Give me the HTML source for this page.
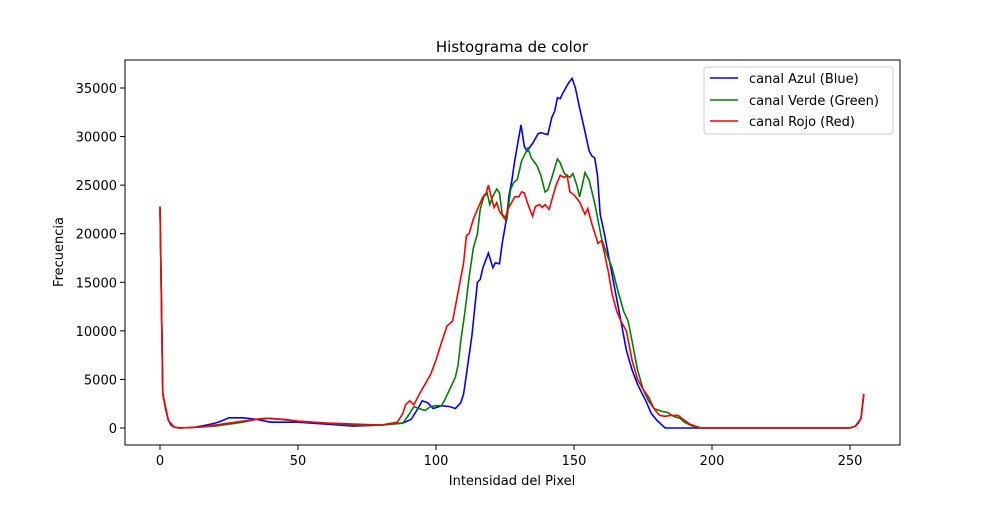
<!DOCTYPE html>
<html><head><meta charset="utf-8"><style>
body{margin:0;background:#fff}
text{font-family:"DejaVu Sans","Liberation Sans",sans-serif;font-size:13px;fill:#000}
</style></head><body>
<svg id="s" width="1000" height="500" xmlns="http://www.w3.org/2000/svg">
<rect width="1000" height="500" fill="#fff"/>
<text x="512" y="52" text-anchor="middle" font-size="15" style="font-size:15px">Histograma de color</text>
<g id="ticks"></g>
<polyline id="b" fill="none" stroke="#0000ff" stroke-width="1.6"/>
<polyline id="g" fill="none" stroke="#008000" stroke-width="1.6"/>
<polyline id="r" fill="none" stroke="#ff0000" stroke-width="1.6"/>
<rect x="125" y="60" width="775" height="385" fill="none" stroke="#000" stroke-width="1"/>
<text x="512" y="485" text-anchor="middle">Intensidad del Pixel</text>
<text transform="translate(63,252) rotate(-90)" text-anchor="middle">Frecuencia</text>
<rect x="704" y="67" width="189" height="67" rx="3" fill="#fff" stroke="#ccc"/>
<line x1="710" y1="78" x2="738" y2="78" stroke="#0000ff" stroke-width="1.6"/>
<text x="749" y="83">canal Azul (Blue)</text>
<line x1="710" y1="100" x2="738" y2="100" stroke="#008000" stroke-width="1.6"/>
<text x="749" y="105">canal Verde (Green)</text>
<line x1="710" y1="121" x2="738" y2="121" stroke="#ff0000" stroke-width="1.6"/>
<text x="749" y="126">canal Rojo (Red)</text>
</svg>
<script>
const X=v=>160+2.76*v, Y=v=>428-v*340/35000;
let t='';
[0,50,100,150,200,250].forEach(v=>{t+=`<line x1="${X(v)}" y1="445" x2="${X(v)}" y2="450" stroke="#000"/><text x="${X(v)}" y="465" text-anchor="middle">${v}</text>`});
for(let v=0;v<=35000;v+=5000){t+=`<line x1="120" y1="${Y(v)}" x2="125" y2="${Y(v)}" stroke="#000"/><text x="117" y="${Y(v)+5}" text-anchor="end">${v}</text>`}
document.getElementById('ticks').innerHTML=t;
const B=[[0,22800],[1,3500],[2,2000],[3,800],[4,300],[5,100],[7,0],[12,50],[15,200],[20,500],[22,700],[25,1050],[30,1050],[35,900],[40,600],[50,600],[60,400],[70,200],[80,300],[88,500],[91,900],[93,1800],[95,2800],[97,2600],[99,2000],[102,2300],[105,2200],[107,2000],[109,2600],[110,3500],[111,5500],[113,9500],[115,15000],[116,15300],[117,16500],[119,18000],[120.6,16500],[121.5,17000],[123,16900],[124,19000],[125.5,21500],[126.5,24000],[127.5,25500],[128.5,27500],[130.8,31200],[132,29000],[133,28500],[135,29300],[137,30300],[138,30400],[140.5,30200],[142,32000],[143,32600],[144,34000],[145,33900],[146,34500],[148,35500],[149.3,36000],[150.5,35000],[152,33000],[154,30500],[155.5,28500],[156.5,28000],[157.5,27800],[158.5,26000],[159.5,22000],[161,20000],[163,17000],[165,14000],[167,11000],[169,8000],[171,6000],[173,4500],[176,2800],[178,1500],[180,800],[183,0],[250,0],[252,200],[253,500],[254,1000],[255,3500]];
const G=[[0,22800],[1,3500],[3,800],[5,100],[7,0],[15,100],[20,200],[30,600],[35,900],[40,1000],[50,700],[60,500],[70,300],[80,300],[88,500],[90,1300],[92,2200],[94,2000],[96,1800],[98,2200],[100,2300],[102,2300],[103,2800],[105,4000],[107,5200],[108,6500],[109,9000],[110.5,12000],[112,15500],[113.5,18500],[115,20000],[116,22500],[117.5,24000],[118.5,24200],[119.5,23000],[120.5,23800],[122,24600],[123,24200],[124,22000],[125.7,21500],[127,24500],[128,25200],[129.5,25600],[131,27500],[133.3,28800],[134.5,27800],[136.6,27000],[138,26000],[139.5,24300],[140.5,24500],[142,25800],[144,27700],[145,27300],[146.5,26200],[148.5,25800],[149.6,26200],[151,25000],[152,23800],[153,25000],[154,26300],[155.5,25500],[157.6,23000],[160,19500],[162,17800],[163.8,16500],[166,14000],[168,12000],[169.6,11000],[171,9000],[173,6000],[175,4000],[177,2800],[179,2000],[182,1700],[184,1600],[186,1200],[188.4,1000],[190,600],[193,200],[196,0],[250,0],[252,200],[254,1000],[255,3500]];
const R=[[0,22800],[1,3500],[3,800],[5,100],[7,0],[15,100],[20,300],[30,700],[35,900],[38,1000],[45,900],[50,700],[60,500],[70,400],[80,300],[86,600],[88,1500],[89,2400],[90.5,2800],[92,2400],[94,3500],[96,4500],[98,5500],[100,7000],[102,8800],[104,10500],[106,11000],[108,14000],[110,17000],[111,19800],[112,20000],[113.5,21500],[115,22500],[117,23800],[118,24000],[119,25000],[120,23800],[121,22700],[122,23200],[123,22300],[125,21500],[126,22500],[127,23000],[128.5,23800],[130,23800],[131,24300],[132,24200],[133,23300],[134,22500],[135,21800],[136,22800],[137.5,23000],[138.5,22700],[139.5,23000],[141,22500],[142,23500],[143.5,25000],[145,26000],[146.5,25800],[147.5,26000],[148.5,24300],[150,24000],[152,23300],[154,22000],[155,22600],[156.5,21000],[158.7,19000],[160,19300],[161,18000],[162.5,16000],[163.8,13800],[165.5,12000],[167,11000],[169,10000],[171,7000],[173,5000],[175,4000],[177,3200],[179,2000],[181,1300],[183,1200],[185,1300],[187.7,1300],[190,800],[192,400],[194,200],[196,0],[250,0],[252,200],[254,1000],[255,3500]];
const P=d=>d.map(p=>X(p[0]).toFixed(1)+','+Y(p[1]).toFixed(1)).join(' ');
document.getElementById('b').setAttribute('points',P(B));
document.getElementById('g').setAttribute('points',P(G));
document.getElementById('r').setAttribute('points',P(R));
</script>
</body></html>
